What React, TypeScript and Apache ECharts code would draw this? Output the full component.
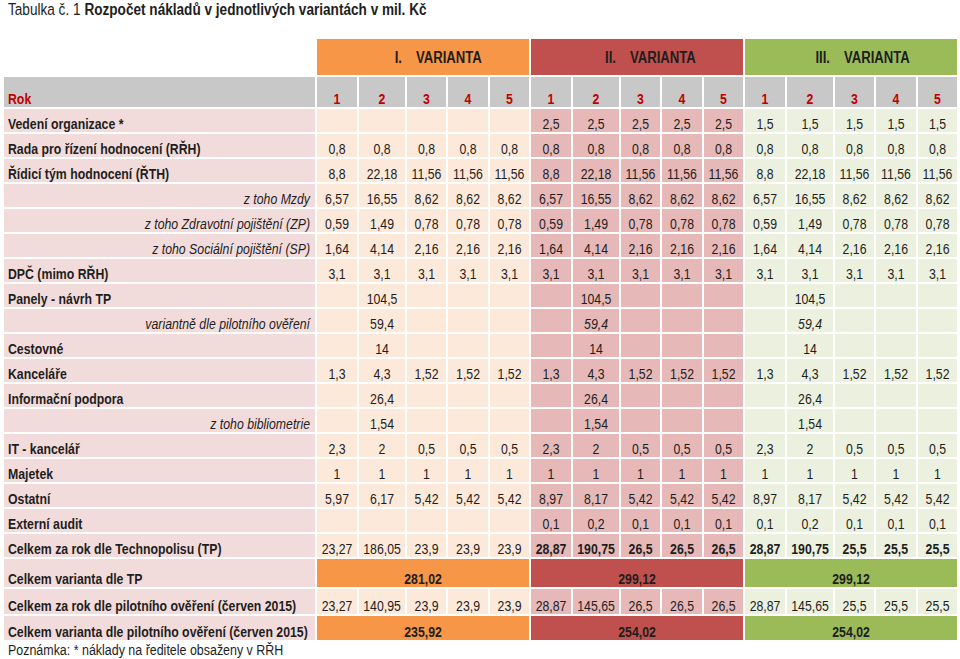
import React, { useEffect, useRef } from "react";
import * as echarts from "echarts";

// ---------- DATA ----------
const titlePrefix = "Tabulka č. 1 ";
const titleMain = "Rozpočet nákladů v jednotlivých variantách v mil. Kč";
const note = "Poznámka: * náklady na ředitele obsaženy v RŘH";

const variantNames = ["I.", "II.", "III."];
const variantWord = "VARIANTA";
const yearHeader = "Rok";
const years = ["1", "2", "3", "4", "5"];

const rowLabels = [
  "Vedení organizace *",
  "Rada pro řízení hodnocení (RŘH)",
  "Řídicí tým hodnocení (ŘTH)",
  "z toho Mzdy",
  "z toho Zdravotní pojištění (ZP)",
  "z toho Sociální pojištění (SP)",
  "DPČ (mimo RŘH)",
  "Panely - návrh TP",
  "variantně dle pilotního ověření",
  "Cestovné",
  "Kanceláře",
  "Informační podpora",
  "z toho bibliometrie",
  "IT - kancelář",
  "Majetek",
  "Ostatní",
  "Externí audit",
  "Celkem za rok dle Technopolisu (TP)",
];
const subRows = [3, 4, 5, 8, 12];

const variantI: (number | null)[][] = [
  [null, null, null, null, null],
  [0.8, 0.8, 0.8, 0.8, 0.8],
  [8.8, 22.18, 11.56, 11.56, 11.56],
  [6.57, 16.55, 8.62, 8.62, 8.62],
  [0.59, 1.49, 0.78, 0.78, 0.78],
  [1.64, 4.14, 2.16, 2.16, 2.16],
  [3.1, 3.1, 3.1, 3.1, 3.1],
  [null, 104.5, null, null, null],
  [null, 59.4, null, null, null],
  [null, 14, null, null, null],
  [1.3, 4.3, 1.52, 1.52, 1.52],
  [null, 26.4, null, null, null],
  [null, 1.54, null, null, null],
  [2.3, 2, 0.5, 0.5, 0.5],
  [1, 1, 1, 1, 1],
  [5.97, 6.17, 5.42, 5.42, 5.42],
  [null, null, null, null, null],
  [23.27, 186.05, 23.9, 23.9, 23.9],
];
const variantII: (number | null)[][] = [
  [2.5, 2.5, 2.5, 2.5, 2.5],
  [0.8, 0.8, 0.8, 0.8, 0.8],
  [8.8, 22.18, 11.56, 11.56, 11.56],
  [6.57, 16.55, 8.62, 8.62, 8.62],
  [0.59, 1.49, 0.78, 0.78, 0.78],
  [1.64, 4.14, 2.16, 2.16, 2.16],
  [3.1, 3.1, 3.1, 3.1, 3.1],
  [null, 104.5, null, null, null],
  [null, 59.4, null, null, null],
  [null, 14, null, null, null],
  [1.3, 4.3, 1.52, 1.52, 1.52],
  [null, 26.4, null, null, null],
  [null, 1.54, null, null, null],
  [2.3, 2, 0.5, 0.5, 0.5],
  [1, 1, 1, 1, 1],
  [8.97, 8.17, 5.42, 5.42, 5.42],
  [0.1, 0.2, 0.1, 0.1, 0.1],
  [28.87, 190.75, 26.5, 26.5, 26.5],
];
const variantIII: (number | null)[][] = [
  [1.5, 1.5, 1.5, 1.5, 1.5],
  [0.8, 0.8, 0.8, 0.8, 0.8],
  [8.8, 22.18, 11.56, 11.56, 11.56],
  [6.57, 16.55, 8.62, 8.62, 8.62],
  [0.59, 1.49, 0.78, 0.78, 0.78],
  [1.64, 4.14, 2.16, 2.16, 2.16],
  [3.1, 3.1, 3.1, 3.1, 3.1],
  [null, 104.5, null, null, null],
  [null, 59.4, null, null, null],
  [null, 14, null, null, null],
  [1.3, 4.3, 1.52, 1.52, 1.52],
  [null, 26.4, null, null, null],
  [null, 1.54, null, null, null],
  [2.3, 2, 0.5, 0.5, 0.5],
  [1, 1, 1, 1, 1],
  [8.97, 8.17, 5.42, 5.42, 5.42],
  [0.1, 0.2, 0.1, 0.1, 0.1],
  [28.87, 190.75, 25.5, 25.5, 25.5],
];

const totalTPLabel = "Celkem varianta dle TP";
const totalTP = [281.02, 299.12, 299.12];
const pilotYearLabel = "Celkem za rok dle pilotního ověření (červen 2015)";
const pilotI = [23.27, 140.95, 23.9, 23.9, 23.9];
const pilotII = [28.87, 145.65, 26.5, 26.5, 26.5];
const pilotIII = [28.87, 145.65, 25.5, 25.5, 25.5];
const totalPilotLabel = "Celkem varianta dle pilotního ověření (červen 2015)";
const totalPilot = [235.92, 254.02, 254.02];

// ---------- LAYOUT / STYLE ----------
// Arial Narrow look: Liberation Sans (Arial metrics) squeezed horizontally
const FONT = "'Liberation Sans', Arial, sans-serif";
const NARROW = 0.82;
const BODY_SIZE = 15;
const HEAD_SIZE = 16;
const labelColW = 313;
const yearColW = [42, 48, 41, 42, 41];
const rowH = [38, 32, ...rowLabels.map(() => 25), 30, 27, 26];

const headerFill = ["#f79646", "#c0504d", "#9bbb59"];
const lightFill = ["#fde9d9", "#e6b8b7", "#ebf1de"];
const labelFill = "#f2dcdb";
const grayFill = "#c8c8c8";
const red = "#c00000";
const ink = "#1e1e1e";

const colW = [labelColW, ...yearColW, ...yearColW, ...yearColW];
const colEdges = colW.reduce((a, w) => [...a, a[a.length - 1] + w], [0] as number[]);
const rowEdges = rowH.reduce((a, h) => [...a, a[a.length - 1] + h], [0] as number[]);
const totalW = colEdges[colEdges.length - 1];
const totalH = rowEdges[rowEdges.length - 1];

const fmt = (v: number) => String(v).replace(".", ",");

type TextSpec = {
  text: string;
  anchor: "left" | "right" | "center";
  dx: number;
  align?: "left" | "right" | "center";
  bold?: boolean;
  italic?: boolean;
  color?: string;
  size?: number;
};
type Cell = { c: number; r: number; span: number; fill: string; texts: TextSpec[] };

const cells: Cell[] = [];
// variant header row
variantNames.forEach((v, k) => {
  cells.push({
    c: 1 + k * 5,
    r: 0,
    span: 5,
    fill: headerFill[k],
    texts: [
      { text: v, anchor: "center", dx: -21, align: "right", bold: true, size: HEAD_SIZE },
      { text: variantWord, anchor: "center", dx: -7, align: "left", bold: true, size: HEAD_SIZE },
    ],
  });
});
// Rok row
cells.push({ c: 0, r: 1, span: 1, fill: grayFill, texts: [{ text: yearHeader, anchor: "left", dx: 5, bold: true, color: red }] });
for (let k = 0; k < 3; k++) {
  years.forEach((y, j) => {
    cells.push({ c: 1 + k * 5 + j, r: 1, span: 1, fill: grayFill, texts: [{ text: y, anchor: "center", dx: 0, bold: true, color: red }] });
  });
}
// data rows
const variants = [variantI, variantII, variantIII];
rowLabels.forEach((lab, i) => {
  const r = 2 + i;
  const sub = subRows.includes(i);
  cells.push({
    c: 0,
    r,
    span: 1,
    fill: labelFill,
    texts: [sub ? { text: lab, anchor: "right", dx: -6, italic: true } : { text: lab, anchor: "left", dx: 5, bold: true }],
  });
  variants.forEach((vals, k) => {
    vals[i].forEach((v, j) => {
      const isTotal = i === rowLabels.length - 1 && k > 0;
      const isItal = i === 8 && k > 0;
      cells.push({
        c: 1 + k * 5 + j,
        r,
        span: 1,
        fill: lightFill[k],
        texts: v === null ? [] : [{ text: fmt(v), anchor: "center", dx: 0, bold: isTotal, italic: isItal }],
      });
    });
  });
});
// totals
const rT = 2 + rowLabels.length;
cells.push({ c: 0, r: rT, span: 1, fill: labelFill, texts: [{ text: totalTPLabel, anchor: "left", dx: 5, bold: true }] });
totalTP.forEach((v, k) =>
  cells.push({ c: 1 + k * 5, r: rT, span: 5, fill: headerFill[k], texts: [{ text: fmt(v), anchor: "center", dx: 0, bold: true }] })
);
cells.push({ c: 0, r: rT + 1, span: 1, fill: labelFill, texts: [{ text: pilotYearLabel, anchor: "left", dx: 5, bold: true }] });
[pilotI, pilotII, pilotIII].forEach((vals, k) =>
  vals.forEach((v, j) =>
    cells.push({ c: 1 + k * 5 + j, r: rT + 1, span: 1, fill: lightFill[k], texts: [{ text: fmt(v), anchor: "center", dx: 0 }] })
  )
);
cells.push({ c: 0, r: rT + 2, span: 1, fill: labelFill, texts: [{ text: totalPilotLabel, anchor: "left", dx: 5, bold: true }] });
totalPilot.forEach((v, k) =>
  cells.push({ c: 1 + k * 5, r: rT + 2, span: 5, fill: headerFill[k], texts: [{ text: fmt(v), anchor: "center", dx: 0, bold: true }] })
);

const option: any = {
  animation: false,
  backgroundColor: "#ffffff",
  graphic: [
    {
      type: "text",
      x: 8,
      y: 9,
      scaleX: NARROW,
      style: {
        text: `{a|${titlePrefix}}{b|${titleMain}}`,
        x: 0,
        y: 0,
        textAlign: "left",
        textVerticalAlign: "middle",
        rich: {
          a: { fontFamily: FONT, fontSize: 16.6, fontWeight: "normal", fill: ink, textFill: ink },
          b: { fontFamily: FONT, fontSize: 16.6, fontWeight: "bold", fill: ink, textFill: ink },
        },
      },
    },
    {
      type: "text",
      x: 8,
      y: 650,
      scaleX: NARROW,
      style: {
        text: note,
        x: 0,
        y: 0,
        textAlign: "left",
        textVerticalAlign: "middle",
        fill: ink,
        fontFamily: FONT,
        fontSize: 15.2,
      },
    },
  ],
  grid: { left: 3, top: 38, width: totalW, height: totalH },
  xAxis: { type: "value", min: 0, max: totalW, show: false },
  yAxis: { type: "value", min: 0, max: totalH, inverse: true, show: false },
  series: [
    {
      type: "custom",
      coordinateSystem: "cartesian2d",
      data: cells.map((cell, i) => [cell.c, cell.r, cell.span, i]),
      renderItem: (params: any, api: any) => {
        const cell = cells[api.value(3)];
        const p0 = api.coord([colEdges[cell.c], rowEdges[cell.r]]);
        const p1 = api.coord([colEdges[cell.c + cell.span], rowEdges[cell.r + 1]]);
        const left = Math.min(p0[0], p1[0]);
        const top = Math.min(p0[1], p1[1]);
        const w = Math.abs(p1[0] - p0[0]);
        const h = Math.abs(p1[1] - p0[1]);
        const children: any[] = [
          { type: "rect", shape: { x: left + 1, y: top + 1, width: w - 2, height: h - 2 }, style: { fill: cell.fill } },
        ];
        cell.texts.forEach((t) => {
          let x = left + t.dx;
          let align: string = "left";
          if (t.anchor === "right") {
            x = left + w + t.dx;
            align = "right";
          } else if (t.anchor === "center") {
            x = left + w / 2 + t.dx;
            align = t.align || "center";
          }
          const y = cell.r === 0 ? top + h / 2 + 1 : top + h - 8.5;
          children.push({
            type: "text",
            x,
            y,
            scaleX: NARROW,
            style: {
              text: t.text,
              x: 0,
              y: 0,
              textAlign: align,
              textVerticalAlign: "middle",
              fill: t.color || ink,
              fontFamily: FONT,
              fontSize: t.size || BODY_SIZE,
              fontWeight: t.bold ? "bold" : "normal",
              fontStyle: t.italic ? "italic" : "normal",
            },
          });
        });
        return { type: "group", children };
      },
    },
  ],
};

export default function App() {
  const ref = useRef<HTMLDivElement>(null);
  useEffect(() => {
    const chart = echarts.init(ref.current!, null, { renderer: "svg" });
    chart.setOption(option);
    return () => chart.dispose();
  }, []);
  return (
    <div
      ref={ref}
      style={{ position: "fixed", left: 0, top: 0, width: 960, height: 659, background: "#ffffff" }}
    />
  );
}
